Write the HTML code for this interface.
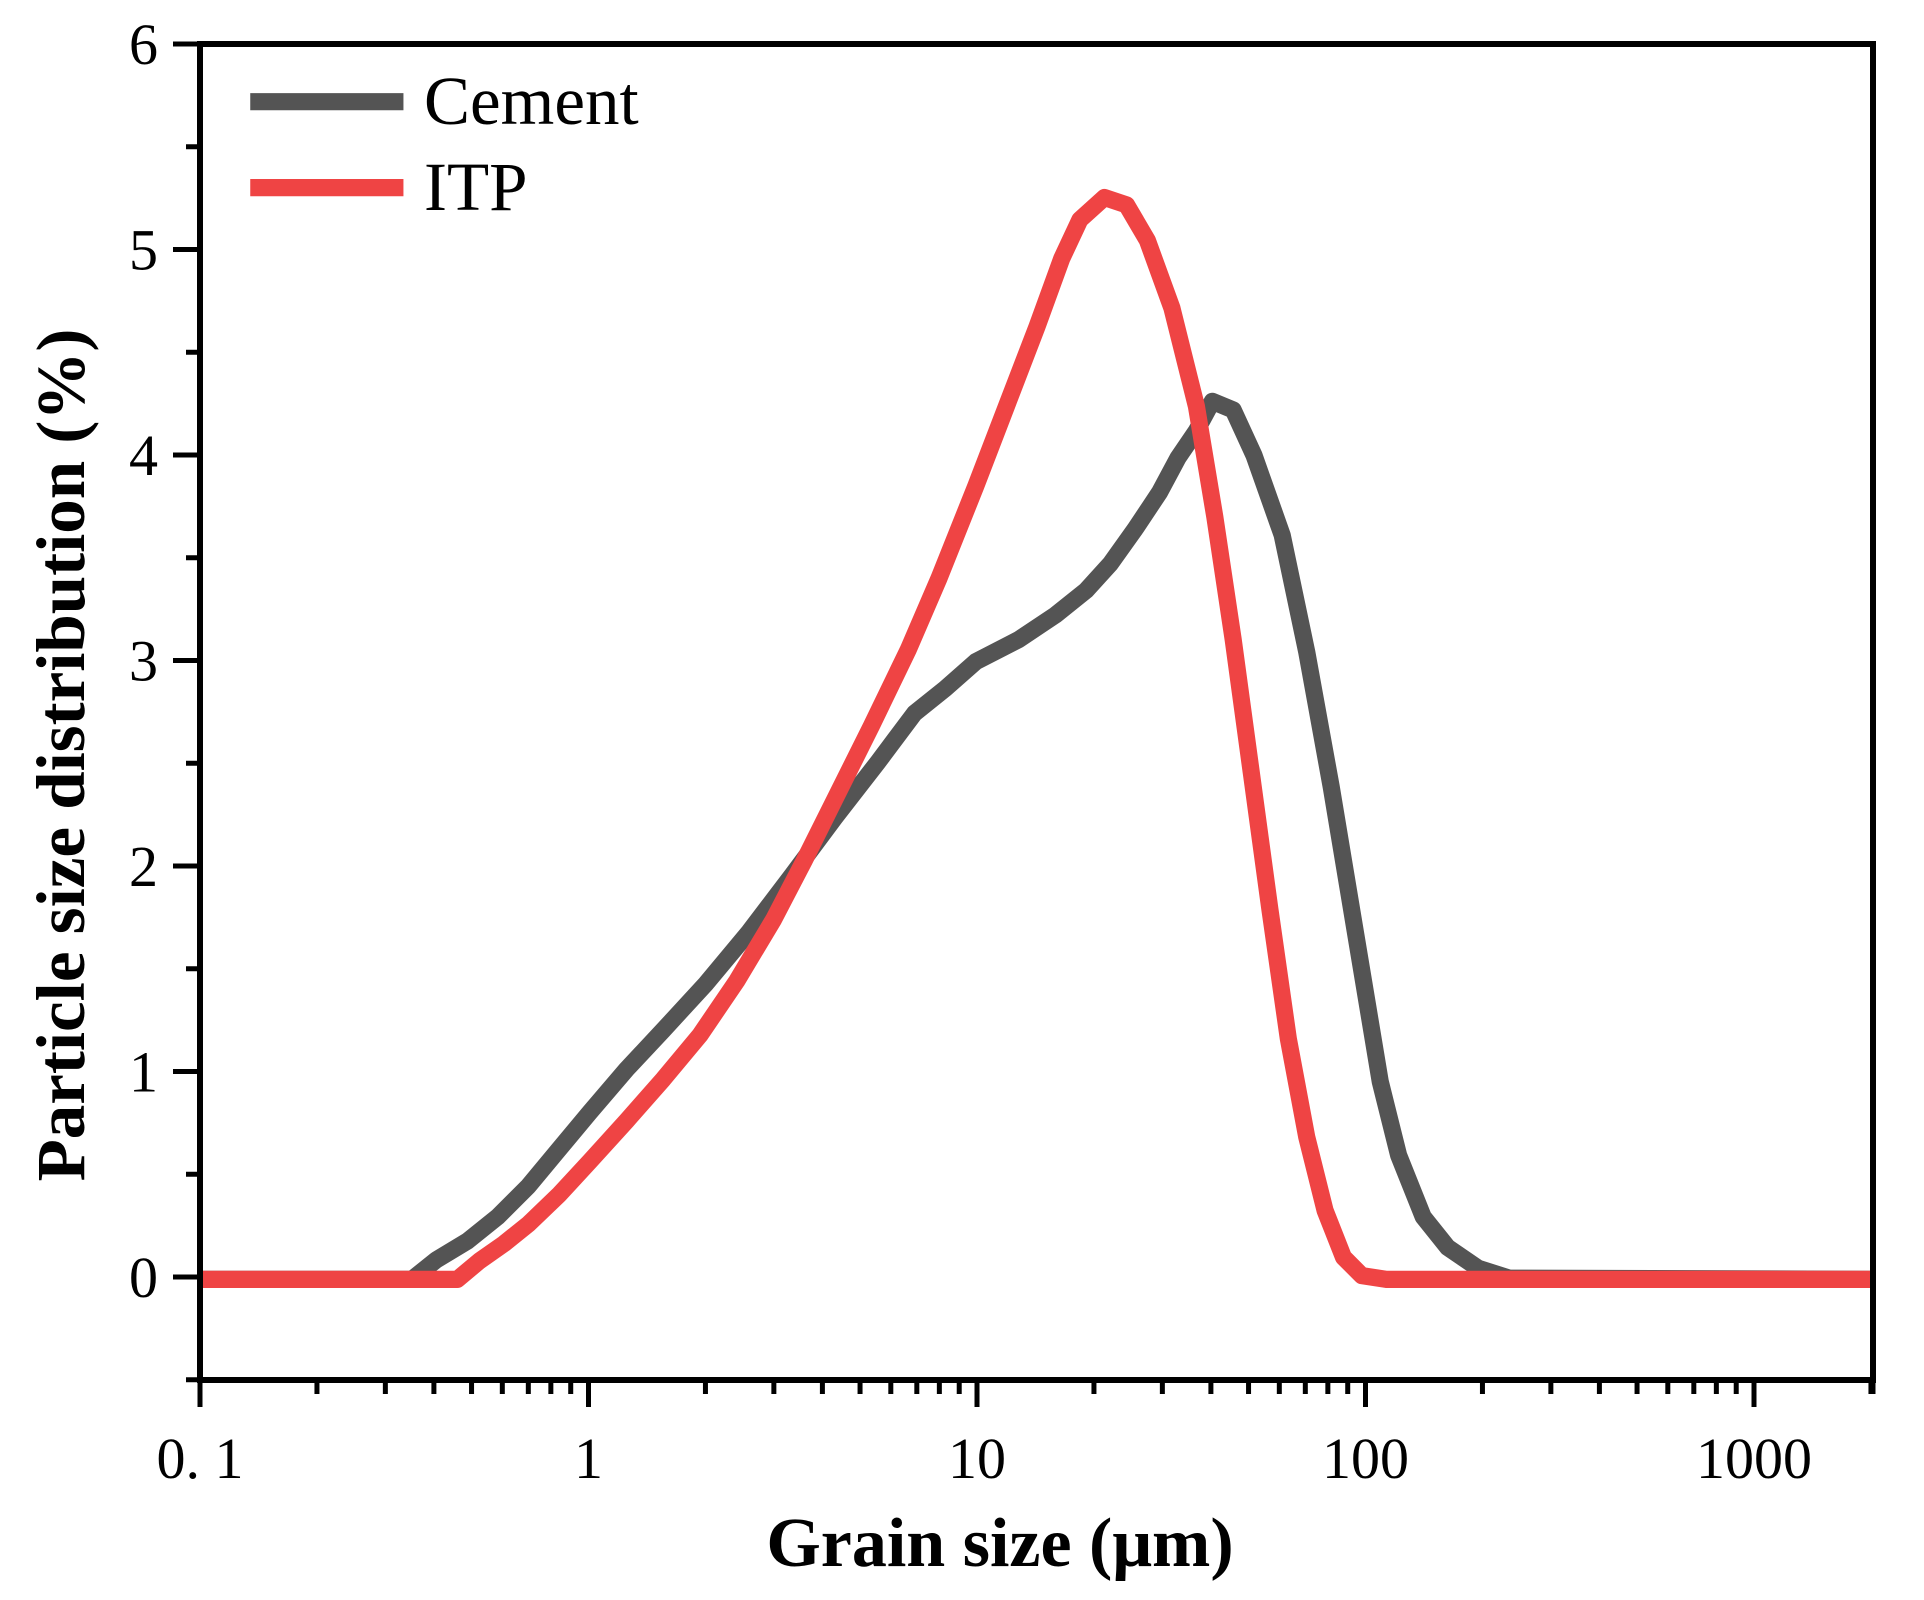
<!DOCTYPE html>
<html><head><meta charset="utf-8"><style>html,body{margin:0;padding:0;background:#fff}svg{display:block}</style></head>
<body>
<svg id="s" width="1924" height="1600" viewBox="0 0 1924 1600" xmlns="http://www.w3.org/2000/svg" font-family="'Liberation Serif', serif">
<g id="ticks" stroke="#000" stroke-width="5"></g>
<g transform="matrix(1.2256 0 0 1.228 1.45 1.0)" fill="none" stroke-linejoin="round" stroke-linecap="butt">
<polyline stroke="#545454" stroke-width="14" points="162,1041 335,1041 355,1025 380,1010 405,990 430,965 455,935 480,905 510,870 540,838 575,800 610,758 645,712 680,665 715,620 745,580 770,560 795,538 830,520 860,500 885,480 905,458 925,430 945,400 960,372 975,350 988,326 1005,333 1022,370 1045,435 1065,530 1085,640 1105,760 1115,820 1125,880 1140,940 1160,990 1180,1015 1205,1032 1230,1040 1527,1041"/>
<polyline stroke="#ef4444" stroke-width="14" points="162,1041 372,1041 390,1026 410,1012 430,996 455,972 480,945 510,912 540,878 570,842 600,798 630,748 655,700 680,650 710,590 740,528 765,470 795,395 820,330 845,265 865,210 880,178 900,160 918,166 935,195 955,250 975,330 990,420 1005,520 1020,630 1035,740 1050,845 1065,925 1080,985 1095,1023 1110,1038 1130,1041 1527,1041"/>
<line x1="203" y1="82" x2="328" y2="82" stroke="#545454" stroke-width="14"/>
<line x1="203" y1="152" x2="328" y2="152" stroke="#ef4444" stroke-width="14"/>
</g>
<rect x="200" y="44" width="1673" height="1336" fill="none" stroke="#000" stroke-width="6"/>
<g font-size="69" fill="#000">
<text x="424" y="124">Cement</text>
<text x="424" y="210">ITP</text>
</g>
<g id="labels" font-size="58" fill="#000"></g>
<text x="1000" y="1566" font-size="70" font-weight="bold" text-anchor="middle">Grain size (μm)</text>
<text transform="translate(84 755) rotate(-90)" font-size="69" font-weight="bold" text-anchor="middle">Particle size distribution (%)</text>
</svg>
<script>
var t=document.getElementById('ticks'),L=document.getElementById('labels'),ns='http://www.w3.org/2000/svg';
function ln(a,b,c,d){var e=document.createElementNS(ns,'line');e.setAttribute('x1',a);e.setAttribute('y1',b);e.setAttribute('x2',c);e.setAttribute('y2',d);t.appendChild(e);}
function tx(x,y,s,a){var e=document.createElementNS(ns,'text');e.setAttribute('x',x);e.setAttribute('y',y);e.setAttribute('text-anchor',a);e.textContent=s;L.appendChild(e);}
var D=388.5,x0=200;
var lab=['0. 1','1','10','100','1000'];
for(var d=0;d<5;d++){var bx=x0+d*D;ln(bx,1380,bx,1407);tx(bx,1478,lab[d],'middle');
 for(var k=2;k<=9;k++){var xx=bx+Math.log10(k)*D;if(xx<=1873)ln(xx,1380,xx,1394);}}
ln(1873,1380,1873,1394);
var y0=1277,U=205.5;
for(var v=-0.5;v<=6.01;v+=0.5){var yy=y0-v*U;if(Math.abs(v-Math.round(v))<0.01){ln(173,yy,200,yy);tx(158,yy+20,String(Math.round(v)),'end');}else ln(186,yy,200,yy);}
</script>
</body></html>
